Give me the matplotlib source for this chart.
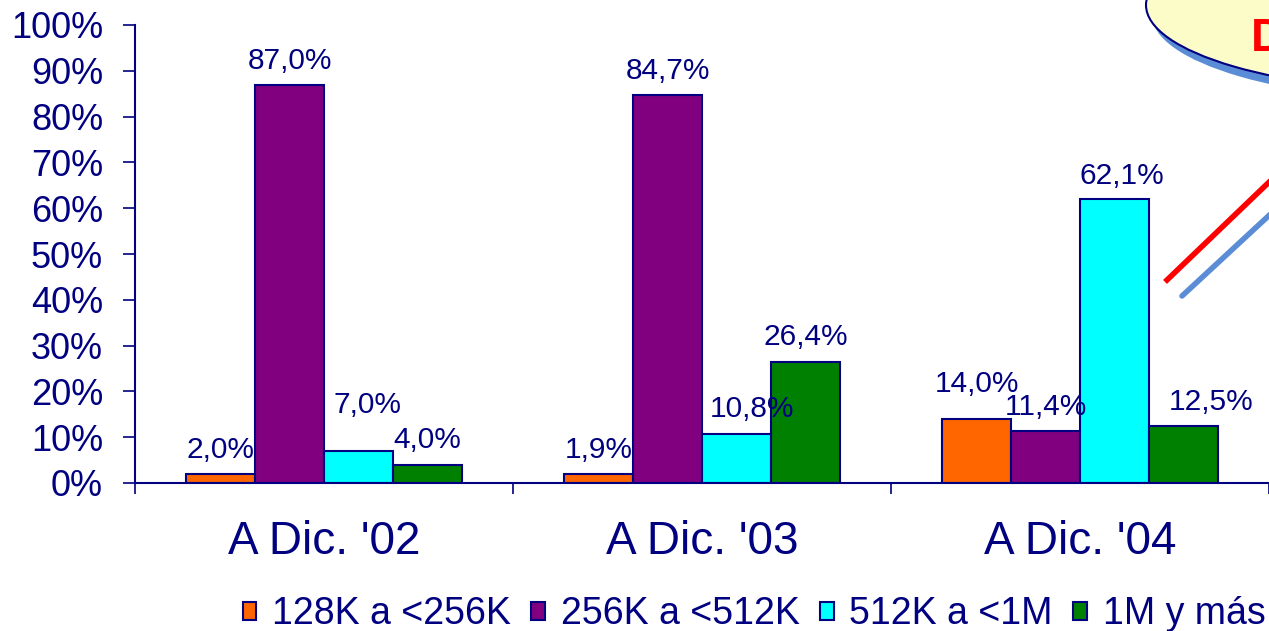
import matplotlib
matplotlib.use("Agg")
import matplotlib.pyplot as plt
from matplotlib.patches import Ellipse
from matplotlib.lines import Line2D
from matplotlib.transforms import Affine2D
import numpy as np

plt.rcParams['font.family'] = ['Liberation Sans', 'DejaVu Sans']

# data
periods = ["A Dic. '02", "A Dic. '03", "A Dic. '04"]
series = ["128K a <256K", "256K a <512K", "512K a <1M", "1M y más"]
v_128 = [2.0, 1.9, 14.0]
v_256 = [87.0, 84.7, 11.4]
v_512 = [7.0, 10.8, 62.1]
v_1m = [4.0, 26.4, 12.5]
values = [v_128, v_256, v_512, v_1m]

colors = ['#FF6600', '#800080', '#00FFFF', '#008000']
navy = '#000080'

# label nudges (pixels) where the original places them off-centre
label_dx = [[0, 0, 0], [0, 0, 0], [9, 16, 7], [0, 0, 28]]
label_dy = [[16, 16, 27], [16, 16, 16], [38, 17, 15], [17, 17, 16]]

W, H = 1269, 631
fig = plt.figure(figsize=(W / 100, H / 100), dpi=100)
ax = fig.add_axes([135 / W, 1 - 483 / H, 1 - 135 / W, (483 - 25) / H])

x = np.arange(len(periods))
bw = 0.1825
for i, (vals, c) in enumerate(zip(values, colors)):
    xs = x + (i - 1.5) * bw
    ax.bar(xs, vals, bw, color=c, edgecolor=navy, linewidth=1.5, label=series[i], zorder=2)
    for j, v in enumerate(vals):
        ax.annotate(f"{v:.1f}%".replace('.', ','), (xs[j], v),
                    xytext=(label_dx[i][j], label_dy[i][j]), textcoords='offset pixels',
                    ha='center', va='baseline', fontsize=21.5, color=navy, zorder=3)

ax.set_xlim(-0.5, 2.5)
ax.set_ylim(0, 100)
ax.set_yticks(range(0, 101, 10))
ax.set_yticklabels([f"{t}%" for t in range(0, 101, 10)])
ax.tick_params(axis='y', direction='out', length=9, width=1.2, color=navy,
               labelcolor=navy, labelsize=26, pad=14)

ax.set_xticks([-0.5, 0.5, 1.5, 2.5])
ax.set_xticklabels([])
ax.set_xticks(x, minor=True)
ax.set_xticklabels(periods, minor=True)
ax.tick_params(axis='x', which='major', direction='out', length=8, width=1.2, color=navy)
ax.tick_params(axis='x', which='minor', length=0, labelsize=33, labelcolor=navy, pad=27)

for s in ['top', 'right']:
    ax.spines[s].set_visible(False)
for s in ['left', 'bottom']:
    ax.spines[s].set_color(navy)
    ax.spines[s].set_linewidth(1.5)

leg = fig.legend(loc='center', bbox_to_anchor=(754 / W, 1 - 614 / H), ncol=4, frameon=False,
                 fontsize=27, handlelength=0.36, handleheight=0.36, handletextpad=0.42,
                 columnspacing=0.55, borderpad=0)
for t in leg.get_texts():
    t.set_color(navy)

# decoration in the top-right corner (image pixel coords, y downwards)
px = Affine2D().scale(1, -1).translate(0, H)
shadow = Ellipse((1452, 15), 600, 174, facecolor='#5B8DD6', edgecolor='none', transform=px)
bubble = Ellipse((1446, 5), 600, 174, facecolor='#FCFCC8', edgecolor=navy, linewidth=1.5, transform=px)
fig.add_artist(shadow)
fig.add_artist(bubble)
fig.text(1251 / W, 1 - 39 / H, 'D', color='#FF0000', fontsize=33, fontweight='bold',
         ha='left', va='center')
fig.add_artist(Line2D([1167, 1290], [280, 162], color='#FF0000', linewidth=4, transform=px))
fig.add_artist(Line2D([1182, 1290], [296, 196], color='#5B8DD6', linewidth=4,
                      solid_capstyle='round', transform=px))

fig.savefig('out.png', dpi=100)
